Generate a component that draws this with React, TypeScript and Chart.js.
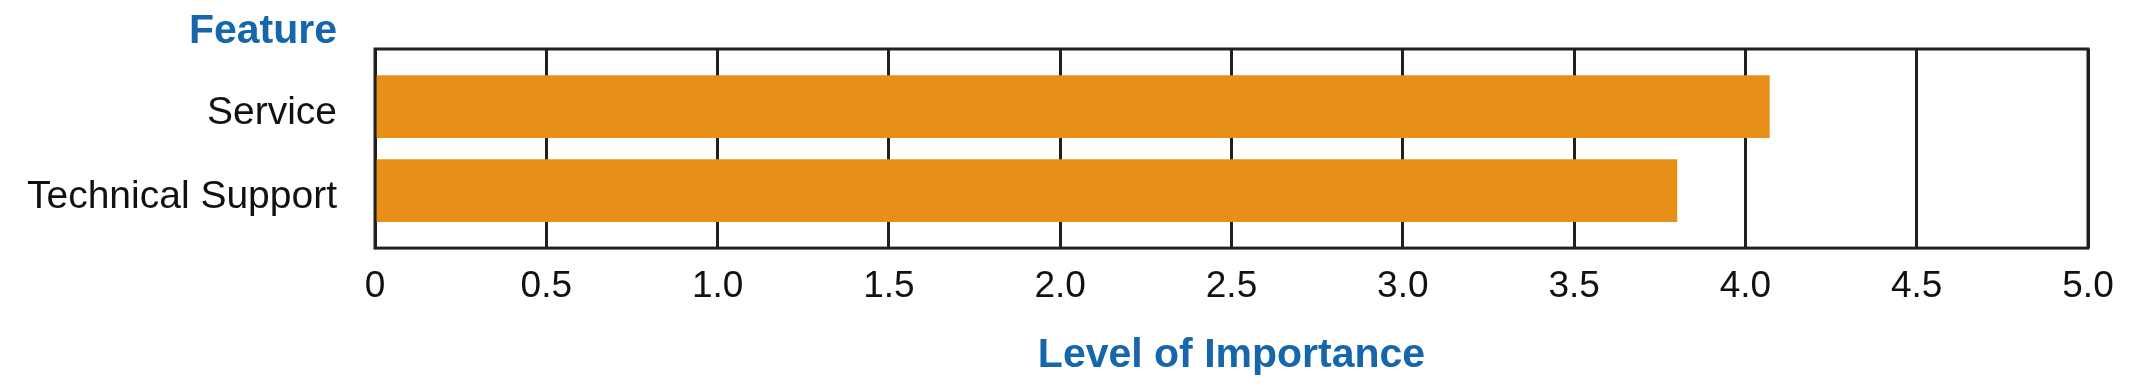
import React, { useEffect, useRef } from "react";
import { Chart, registerables } from "chart.js";

Chart.register(...registerables);

const categories: string[] = ["Service", "Technical Support"];
const importance: number[] = [4.07, 3.8];
const xMin = 0;
const xMax = 5;
const xStep = 0.5;
const yTitle = "Feature";
const xTitle = "Level of Importance";

const ORANGE = "#E88F18";
const BLUE = "#1566AB";
const DARK = "#231F20";
const FONT = "'Liberation Sans', Arial, sans-serif";

export default function App() {
  const ref = useRef<HTMLCanvasElement | null>(null);

  useEffect(() => {
    document.body.style.margin = "0";
    const canvas = ref.current;
    if (!canvas) return;

    const boxPlugin = {
      id: "boxAndTitle",
      afterDatasetsDraw(chart: any) {
        const { ctx, chartArea } = chart;
        ctx.save();
        ctx.strokeStyle = DARK;
        ctx.lineWidth = 3;
        ctx.strokeRect(
          chartArea.left,
          chartArea.top,
          chartArea.right - chartArea.left,
          chartArea.bottom - chartArea.top
        );
        ctx.restore();
      },
      afterDraw(chart: any) {
        const { ctx } = chart;
        ctx.save();
        ctx.fillStyle = BLUE;
        ctx.font = `bold 41px ${FONT}`;
        ctx.textAlign = "right";
        ctx.textBaseline = "alphabetic";
        ctx.fillText(yTitle, 337, 43);
        ctx.restore();
      },
    };

    const chart = new Chart(canvas, {
      type: "bar",
      data: {
        datasets: [
          {
            data: categories.map((_, i) => ({ x: importance[i], y: i })),
            backgroundColor: ORANGE,
            borderWidth: 0,
            barThickness: 62,
          },
        ],
      },
      options: {
        indexAxis: "y",
        responsive: false,
        animation: false,
        layout: { padding: { top: 49, right: 42, bottom: 0, left: 0 } },
        plugins: {
          legend: { display: false },
          tooltip: { enabled: false },
          title: { display: false },
        },
        scales: {
          x: {
            type: "linear",
            min: xMin,
            max: xMax,
            grid: {
              color: DARK,
              lineWidth: 3,
              drawTicks: false,
            },
            border: { display: false },
            afterFit: (scale: any) => {
              scale.paddingLeft = 0;
              scale.paddingRight = 0;
            },
            ticks: {
              stepSize: xStep,
              padding: 16,
              color: "#111",
              font: { family: FONT, size: 37 },
              callback: (v: any) => (Number(v) === 0 ? "0" : Number(v).toFixed(1)),
            },
            title: {
              display: true,
              text: xTitle,
              color: BLUE,
              font: { family: FONT, size: 41, weight: "bold", lineHeight: 1 },
              padding: { top: 11, bottom: 13.5 },
            },
          },
          y: {
            type: "linear",
            reverse: true,
            offset: false,
            min: -0.685,
            max: 1.685,
            grid: { display: false, drawTicks: false, offset: false },
            border: { display: false },
            afterBuildTicks: (scale: any) => {
              scale.ticks = categories.map((_, i) => ({ value: i }));
            },
            afterFit: (scale: any) => {
              scale.width = 375;
              scale.paddingTop = 0;
              scale.paddingBottom = 0;
            },
            ticks: {
              padding: 38,
              labelOffset: 7,
              color: "#111",
              font: { family: FONT, size: 39 },
              callback: (v: any) => categories[Number(v)] ?? "",
            },
          },
        },
      },
      plugins: [boxPlugin],
    });

    return () => chart.destroy();
  }, []);

  return (
    <div style={{ position: "relative", width: 2130, height: 390 }}>
      <canvas ref={ref} width={2130} height={390} />
    </div>
  );
}
